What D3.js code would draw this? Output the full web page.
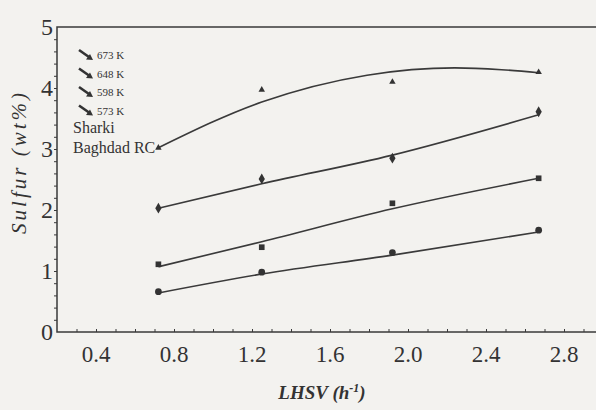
<!DOCTYPE html>
<html>
<head>
<meta charset="utf-8">
<script src="https://cdn.jsdelivr.net/npm/d3@7"></script>
</head>
<body style="margin:0;background:#f3f2ef">
<svg id="chart" width="596" height="410" style="display:block"></svg>
<script>
// ---- data ----
const lhsv = [0.72, 1.25, 1.92, 2.67];
const s573 = [3.02, 3.97, 4.10, 4.26];   // triangles
const s598 = [2.03, 2.51, 2.85, 3.61];   // diamonds
const s648 = [1.11, 1.39, 2.11, 2.52];   // squares
const s673 = [0.66, 0.98, 1.30, 1.67];   // circles

// fitted trend curves as drawn in the figure
const fit573X = [0.72, 1.25, 1.79, 2.24, 2.48, 2.67];
const fit573Y = [3.02, 3.77, 4.21, 4.33, 4.30, 4.25];
const fit598Y = [2.03, 2.43, 2.90, 3.56];
const fit648Y = [1.07, 1.48, 2.02, 2.52];
const fit673Y = [0.64, 0.95, 1.26, 1.64];

const xTicks = [0.4, 0.8, 1.2, 1.6, 2.0, 2.4, 2.8];
const yTicks = [0, 1, 2, 3, 4, 5];
const legendLabels = ["673 K", "648 K", "598 K", "573 K"];
const feedLabel = ["Sharki", "Baghdad RC"];
const xTitle = "LHSV (h";
const xTitleSup = "-1";
const yTitle = "Sulfur (wt%)";

// ---- layout ----
const FONT = "Liberation Serif";
const svg = d3.select("#chart");
const ink = "#3a3a3a";
const txt = "#333";
const x = d3.scaleLinear().domain([0.2, 3.0]).range([57, 603]);
const y = d3.scaleLinear().domain([0, 5]).range([332, 27]);

// frame
svg.append("rect")
  .attr("x", x(0.2)).attr("y", y(5))
  .attr("width", x(3.0) - x(0.2)).attr("height", y(0) - y(5))
  .attr("fill", "none").attr("stroke", ink).attr("stroke-width", 1.5);

// minor ticks
const gx = svg.append("g").attr("transform", `translate(0,${y(0)})`);
gx.call(d3.axisTop(x).tickValues(d3.range(0.3, 3.0, 0.1)).tickSize(3).tickFormat(""));
const gy = svg.append("g").attr("transform", `translate(${x(0.2)},0)`);
gy.call(d3.axisLeft(y).tickValues(d3.range(0.2, 5, 0.2)).tickSize(3).tickFormat(""));
[gx, gy].forEach(g => {
  g.select(".domain").remove();
  g.selectAll("line").attr("stroke", ink).attr("stroke-width", 1);
});

// tick labels
svg.append("g").selectAll("text").data(xTicks).join("text")
  .attr("x", d => x(d)).attr("y", 362)
  .attr("text-anchor", "middle").attr("font-size", 23).attr("fill", txt)
  .attr("font-family", FONT).style("font-family", FONT)
  .text(d => d.toFixed(1));
svg.append("g").selectAll("text").data(yTicks).join("text")
  .attr("x", 53).attr("y", d => y(d) + 8)
  .attr("text-anchor", "end").attr("font-size", 24).attr("fill", txt)
  .attr("font-family", FONT).style("font-family", FONT)
  .text(d => d);

// axis titles
const xt = svg.append("text")
  .attr("x", 322).attr("y", 399).attr("text-anchor", "middle").attr("fill", txt)
  .attr("font-family", FONT).style("font-family", FONT)
  .attr("font-size", 19).attr("font-weight", "bold").attr("font-style", "italic");
xt.append("tspan").text(xTitle);
xt.append("tspan").attr("dy", -7).attr("font-size", 12).text(xTitleSup);
xt.append("tspan").attr("dy", 7).text(")");

svg.append("text")
  .attr("transform", `translate(26,${162}) rotate(-90)`)
  .attr("text-anchor", "middle").attr("font-size", 21).attr("fill", txt)
  .attr("font-family", FONT).style("font-family", FONT)
  .attr("font-style", "italic").attr("letter-spacing", 3)
  .text(yTitle);

// fitted curves
const line = d3.line().x(d => x(d[0])).y(d => y(d[1])).curve(d3.curveMonotoneX);
const fits = [
  { xs: fit573X, ys: fit573Y },
  { xs: lhsv, ys: fit598Y },
  { xs: lhsv, ys: fit648Y },
  { xs: lhsv, ys: fit673Y }
];
fits.forEach(f => {
  svg.append("path")
    .datum(f.xs.map((v, i) => [v, f.ys[i]]))
    .attr("d", line)
    .attr("fill", "none").attr("stroke", ink).attr("stroke-width", 1.6);
});

// markers
const series = [
  { vals: s573, sym: d3.symbolTriangle, size: 18 },
  { vals: s598, sym: d3.symbolDiamond, size: 34 },
  { vals: s648, sym: d3.symbolSquare, size: 32 },
  { vals: s673, sym: d3.symbolCircle, size: 36 }
];
series.forEach(s => {
  svg.append("g").selectAll("path").data(s.vals).join("path")
    .attr("transform", (d, i) => `translate(${x(lhsv[i])},${y(d)})`)
    .attr("d", d3.symbol().type(s.sym).size(s.size))
    .attr("fill", "#333");
});

// legend
const leg = svg.append("g");
legendLabels.forEach((t, i) => {
  const cy = 55 + i * 18.5;
  const g = leg.append("g").attr("transform", `translate(86,${cy})`);
  g.append("line").attr("x1", -7).attr("y1", -5).attr("x2", 3).attr("y2", 2)
    .attr("stroke", "#333").attr("stroke-width", 2.6);
  g.append("path").attr("d", "M7,5 L0,4.5 L4,-1 Z").attr("fill", "#333");
  leg.append("text").attr("x", 97).attr("y", cy + 4).attr("fill", txt)
    .attr("font-family", FONT).style("font-family", FONT)
    .attr("font-size", 11).text(t);
});
feedLabel.forEach((t, i) => {
  svg.append("text").attr("x", 73).attr("y", 133 + i * 20).attr("fill", txt)
    .attr("font-family", FONT).style("font-family", FONT)
    .attr("font-size", 16).text(t);
});
</script>
</body>
</html>
